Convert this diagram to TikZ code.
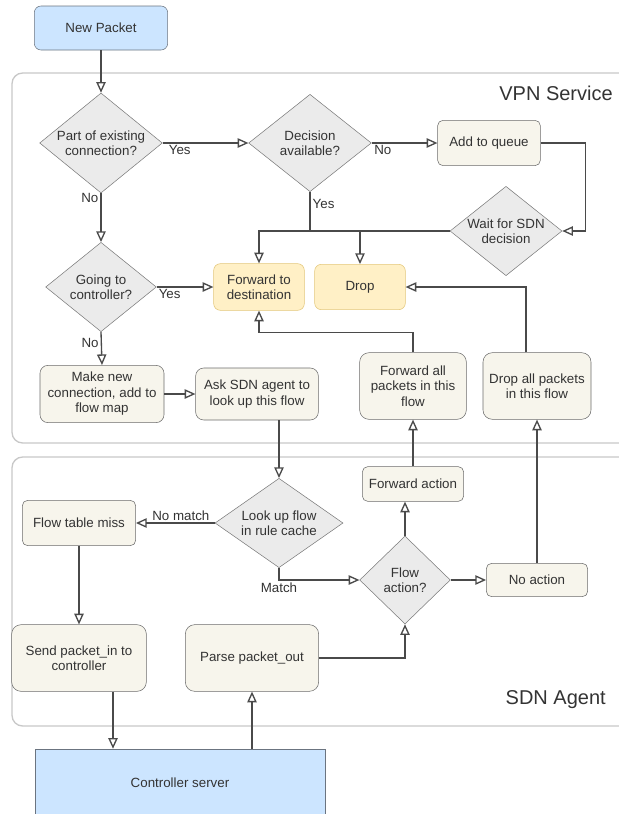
\documentclass[tikz,border=0pt]{standalone}
\usepackage{fontspec}
\setmainfont{Liberation Sans}
\usetikzlibrary{arrows.meta,shapes.geometric}

\definecolor{ln}{HTML}{4A4A4A}
\definecolor{txt}{HTML}{333333}
\definecolor{boxln}{HTML}{6B6B6B}
\definecolor{cream}{HTML}{F7F5EC}
\definecolor{decln}{HTML}{7A7A7A}
\definecolor{decfill}{HTML}{EBEBEB}
\definecolor{yellln}{HTML}{E3C77A}
\definecolor{yellfill}{HTML}{FFF0C6}
\definecolor{bluln}{HTML}{6B7480}
\definecolor{blufill}{HTML}{CCE5FF}
\definecolor{laneln}{HTML}{C8C8C8}

\begin{document}
\begin{tikzpicture}[
  x=0.75pt, y=-0.75pt,
  proc/.style={draw=boxln, fill=cream, rounded corners=4pt, align=center, inner sep=2pt, font=\fontsize{10}{11.6}\selectfont, text=txt},
  big/.style={proc, rounded corners=7pt},
  res/.style={proc, draw=yellln, fill=yellfill, rounded corners=5pt},
  dec/.style={draw=decln, fill=decfill, diamond, aspect=1.2, inner sep=0pt, align=center, font=\fontsize{10}{11.6}\selectfont, text=txt},
  ext/.style={draw=bluln, fill=blufill, align=center, font=\fontsize{10}{11.6}\selectfont, text=txt},
  lane/.style={draw=laneln, line width=1pt, rounded corners=8pt},
  lanelbl/.style={font=\fontsize{15}{18}\selectfont, text=txt, inner sep=0pt},
  lbl/.style={font=\fontsize{10}{12}\selectfont, text=txt, inner sep=1.5pt},
  line/.style={draw=ln, line width=1pt},
  flow/.style={line, ->},
  >={Triangle[open, length=8pt, width=7pt]}
]
  \useasboundingbox (0,0) rectangle (618,814);

  \draw[lane] (12,73) rectangle (660,443);
  \draw[lane] (12,457) rectangle (660,726);
  \node[lanelbl, anchor=base east] (vpnlbl) at (613,100) {VPN Service};
  \node[lanelbl, anchor=base east] (sdnlbl) at (606,704) {SDN Agent};

  \node[ext, rounded corners=5pt, minimum width=100pt, minimum height=33pt] (pkt) at (101,28) {New Packet};
  \node[dec, minimum width=92pt, minimum height=75pt] (dExist) at (101,143) {Part of existing\\connection?};
  \node[dec, minimum width=92pt, minimum height=73pt] (dDecide) at (310,143) {Decision\\available?};
  \node[proc, minimum width=77pt, minimum height=34pt] (queue) at (489,143) {Add to queue};
  \node[dec, aspect=1.25, minimum width=84pt, minimum height=67pt] (dWait) at (506,231) {Wait for SDN\\decision};
  \node[dec, minimum width=83pt, minimum height=67pt] (dCtrl) at (101,287) {Going to\\controller?};
  \node[res, minimum width=68pt, minimum height=35pt] (fwd) at (259,287) {Forward to\\destination};
  \node[res, minimum width=68pt, minimum height=34pt] (drop) at (360,287) {Drop};
  \node[proc, rounded corners=6pt, minimum width=93pt, minimum height=43pt] (newconn) at (102,394) {Make new\\connection, add to\\flow map};
  \node[proc, rounded corners=6pt, minimum width=92pt, minimum height=39pt] (ask) at (257,394) {Ask SDN agent to\\look up this flow};
  \node[big, minimum width=80pt, minimum height=50pt] (fwdall) at (413,386) {Forward all\\packets in this\\flow};
  \node[big, minimum width=81pt, minimum height=50pt] (dropall) at (537,386) {Drop all packets\\in this flow};

  \node[dec, minimum width=96pt, minimum height=67pt] (dLookup) at (279,523) {Look up flow\\in rule cache};
  \node[proc, minimum width=85pt, minimum height=34pt] (miss) at (79,523) {Flow table miss};
  \node[big, minimum width=101pt, minimum height=50pt] (sendin) at (79,658) {Send packet\_in to\\controller};
  \node[big, minimum width=100pt, minimum height=50pt] (parse) at (252,658) {Parse packet\_out};
  \node[dec, aspect=1, minimum width=68pt, minimum height=66pt] (dAction) at (405,580) {Flow\\action?};
  \node[proc, minimum width=76pt, minimum height=26pt] (fwdact) at (413,484) {Forward action};
  \node[proc, minimum width=76pt, minimum height=25pt] (noact) at (537,580) {No action};
  \node[ext, minimum width=217.5pt, minimum height=51pt] (ctrl) at (180,783) {Controller server};

  \draw[flow] (pkt) -- (dExist);
  \draw[flow] (dExist.east) -- node[lbl, pos=0.2, below] {Yes} (dDecide.west);
  \draw[flow] (dDecide.east) -- node[lbl, pos=0.17, below] {No} (queue.west);
  \draw[flow] (queue.east) -- ++(45,0) |- (dWait.east);
  \draw[flow] (dWait.west) -| (fwd.north);
  \draw[line] (dDecide.south) -- node[lbl, pos=0.3, right] {Yes} (dDecide.south |- dWait.west);
  \draw[flow] (drop.north |- dWait.west) -- (drop.north);
  \draw[flow] (dExist.south) -- node[lbl, pos=0.1, left] {No} (dCtrl.north);
  \draw[flow] (dCtrl.east) -- node[lbl, pos=0.23, below] {Yes} (fwd.west);
  \draw[flow] (dCtrl.south) -- node[lbl, pos=0.32, left] {No} (newconn.north);
  \draw[flow] (newconn) -- (ask);
  \draw[flow] (fwdall.north) -- ++(0,-20) -| (fwd.south);
  \path ([xshift=-8.25pt]dropall.north) coordinate (dOut);
  \draw[flow] (dOut) |- (drop.east);
  \draw[flow] (fwdact) -- (fwdall);
  \draw[flow] (noact) -- (dropall);

  \draw[flow] (dLookup.north |- ask.south) -- (dLookup.north);
  \draw[flow] (dLookup.west) -- node[lbl, pos=0.43, above] {No match} (miss.east);
  \draw[flow] (dLookup.south) |- node[lbl, pos=0.5, below] {Match} (dAction.west);
  \draw[flow] (dAction.north) -- (dAction.north |- fwdact.south);
  \draw[flow] (dAction) -- (noact);
  \draw[flow] (parse.east) -| (dAction.south);
  \draw[flow] (miss) -- (sendin);
  \path ([xshift=25.5pt]sendin.south) coordinate (sOut);
  \draw[flow] (sOut) -- (sOut |- ctrl.north);
  \draw[flow] (ctrl.north -| parse.south) -- (parse.south);
\end{tikzpicture}
\end{document}
